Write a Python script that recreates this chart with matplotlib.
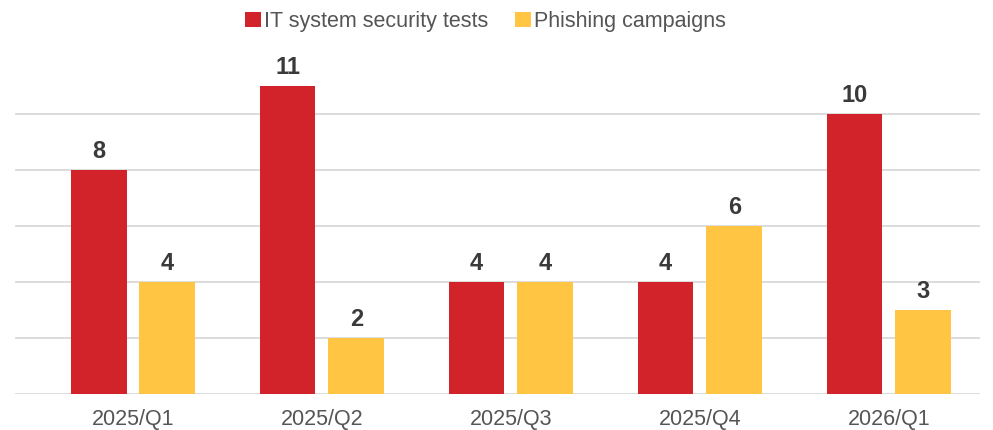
import matplotlib.pyplot as plt
import numpy as np

plt.rcParams['font.family'] = ['Liberation Sans', 'DejaVu Sans']

# 数据
quarters = ['2025/Q1', '2025/Q2', '2025/Q3', '2025/Q4', '2026/Q1']
security_tests = [8, 11, 4, 4, 10]
phishing = [4, 2, 4, 6, 3]

RED = '#D2232A'
YELLOW = '#FFC543'
TEXT = '#555555'

fig = plt.figure(figsize=(9.93, 4.30), dpi=100)
ax = fig.add_axes([15 / 993, 36 / 430, 965 / 993, 0.768])

x = np.arange(len(quarters))
w = 0.296
off = 0.182
bars1 = ax.bar(x - off, security_tests, width=w, color=RED, label='IT system security tests', zorder=3)
bars2 = ax.bar(x + off, phishing, width=w, color=YELLOW, label='Phishing campaigns', zorder=3)

# 数值标签
for bars in (bars1, bars2):
    for b in bars:
        ax.annotate(f'{int(b.get_height())}', (b.get_x() + b.get_width() / 2, b.get_height()),
                    xytext=(0, 5), textcoords='offset points', ha='center', va='bottom',
                    fontsize=17, fontweight='bold', color='#3a3a3a', annotation_clip=False)

ax.set_xlim(-0.624, 4.482)
ax.set_ylim(0, 11.8)
ax.set_yticks([0, 2, 4, 6, 8, 10])
ax.set_yticklabels([])
ax.tick_params(axis='y', length=0)
ax.grid(True, axis='y', color='#d9d9d9', linewidth=1.3, zorder=0)
ax.set_axisbelow(True)

ax.set_xticks(x)
ax.set_xticklabels(quarters, fontsize=15.5, color=TEXT)
ax.tick_params(axis='x', length=0, pad=11)
for s in ax.spines.values():
    s.set_visible(False)

fig.legend(loc='upper center', bbox_to_anchor=(0.489, 1.02), ncol=2, frameon=False,
           fontsize=15.5, labelcolor=TEXT, handlelength=0.72, handleheight=0.72,
           handletextpad=0.15, columnspacing=1.25)

plt.savefig('out.png', dpi=100)
